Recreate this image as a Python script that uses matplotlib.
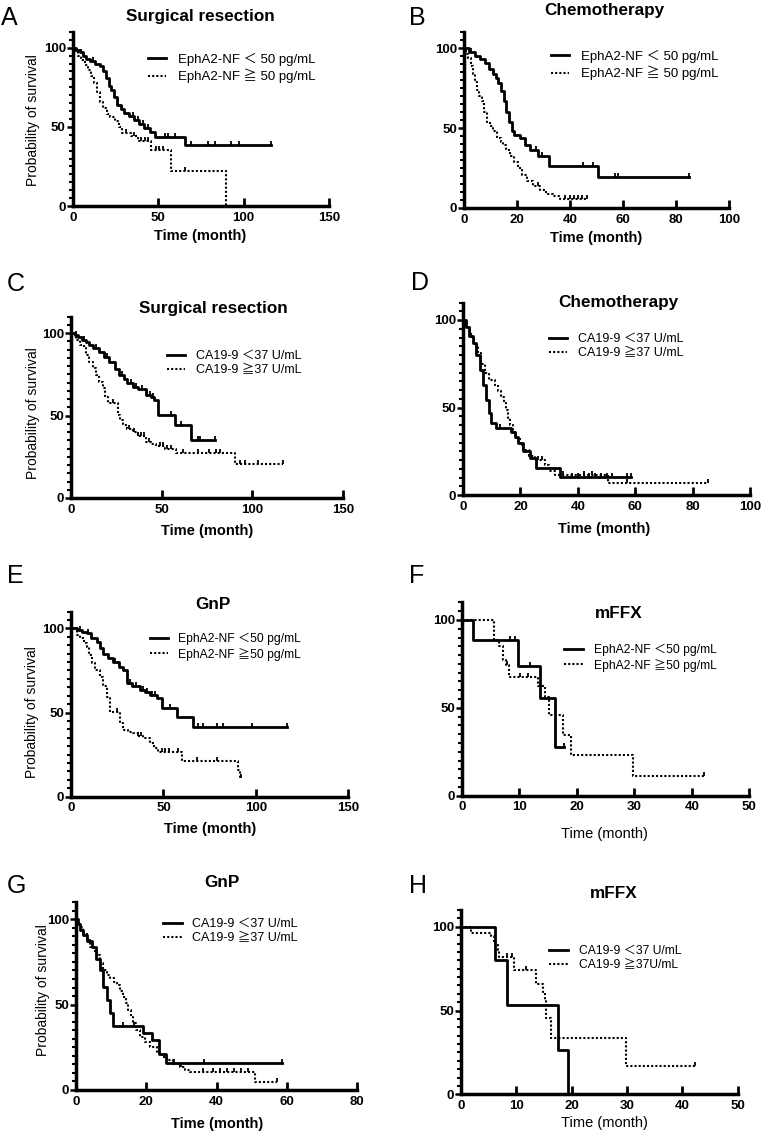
import numpy as np
import matplotlib
matplotlib.use("Agg")
import matplotlib.pyplot as plt
from matplotlib.ticker import MultipleLocator

plt.rcParams['font.family'] = ['Liberation Sans', 'Noto Sans CJK JP', 'DejaVu Sans']

# ---- data: step times (month), survival (%) after each step, censor times ----
# A  Surgical resection, EphA2-NF
a_lo_t = [0, 2, 4, 6, 8, 10, 13, 16, 18, 19.5, 21, 22.5, 24, 26, 28, 30, 33, 36, 39, 42, 45, 48, 66]
a_lo_s = [100, 98.5, 97, 95, 93, 91.5, 90, 88.5, 85, 81, 76, 73, 69, 64, 61, 59, 57, 54.5, 52, 49.5, 47, 43.6, 38.7]
a_lo_c = [5, 12, 29, 35, 38, 41, 44, 53.8, 55.7, 59.6, 69.3, 79, 83, 92.7, 97.6, 116]
a_hi_t = [0, 1.5, 3, 5, 7, 9, 11, 12.5, 14, 16, 18, 20, 22, 25, 27, 29, 34, 38.5, 46, 57.5, 90]
a_hi_s = [100, 97, 95, 92, 89, 86, 82, 78, 72, 66, 62, 58, 56, 54, 50, 46, 44.5, 41, 35.5, 22.4, 0]
a_hi_c = [31, 36, 40, 42.5, 44, 48.5, 50.5, 53, 66]

# B  Chemotherapy, EphA2-NF
b_lo_t = [0, 2, 4, 6, 8, 9.5, 11, 12, 13, 14, 15, 16, 17, 18, 19, 21, 23, 25, 28, 32, 50.7]
b_lo_s = [100, 97.5, 95, 93, 90.6, 87, 84, 81, 78, 73, 67, 60, 54, 48, 45.5, 43.5, 39.6, 36.5, 32.3, 26, 19.2]
b_lo_c = [2.5, 27, 29.5, 44.8, 48.8, 57, 58.2, 85]
b_hi_t = [0, 0.8, 1.6, 2.5, 3.3, 4.2, 5, 5.8, 6.7, 7.6, 8.6, 9.8, 11, 12.5, 13.8, 14.8, 16, 17.4,
          18.8, 20.5, 22, 23.7, 26, 28.7, 31, 33.7, 36.2]
b_hi_s = [100, 96.5, 93.7, 89, 84, 79, 74, 70, 66.7, 60, 54, 51, 48, 44, 41.5, 39.6, 36, 32.3,
          28.5, 25, 20.5, 16.7, 13.5, 11.5, 9, 7.3, 5.6]
b_hi_c = [28, 38, 40, 41.5, 43, 44.5, 46.3]

# C  Surgical resection, CA19-9
c_lo_t = [0, 2, 4, 6, 8.3, 10, 12, 15.6, 18, 21, 24, 26.6, 29, 31, 34, 37, 41.4, 44, 46, 47.8, 57.5, 66.2]
c_lo_s = [100, 98.5, 97.5, 96, 94.7, 93, 91, 88.7, 85.5, 82.6, 78, 74.5, 72, 70, 67.5, 66, 62.4, 61, 59.4, 50.3, 44.4, 35.2]
c_lo_c = [3, 7, 14, 20, 28, 33, 36, 39, 42, 43.5, 45, 55.2, 60.7, 69.9, 71.3, 79.4]
c_hi_t = [0, 2.8, 5, 7.3, 8.5, 10, 12, 13.8, 15.5, 17.5, 19, 20.2, 25.8, 27, 28.5, 31, 34, 37,
          41.4, 44, 46.9, 52, 57.9, 90.6]
c_hi_s = [100, 95.8, 93, 90.7, 86.5, 82.6, 78.5, 74.5, 70.5, 66.5, 61.5, 57.4, 50.3, 47, 44.2, 42, 40.2, 37.5,
          34.1, 33, 31.7, 30, 27.5, 20.4]
c_hi_c = [23, 32, 35, 37, 38.5, 40, 43, 49, 50.5, 53, 55, 62, 70, 76, 80, 82, 93, 96, 103, 116.8]

# D  Chemotherapy, CA19-9
d_lo_t = [0, 1, 2, 3.5, 4.5, 5.8, 6.8, 8.1, 9, 9.9, 11.6, 16.8, 18, 19.2, 21, 23.2, 25.5, 33.7]
d_lo_s = [100, 96, 91, 86.7, 80, 71.4, 63, 54.3, 47, 41, 38.1, 36, 33, 29.5, 25, 21, 15.2, 10.5]
d_lo_c = [13, 38, 40, 42, 44, 46, 48, 50, 52, 57, 58.4]
d_hi_t = [0, 1, 2, 2.9, 4, 5.2, 6.4, 7.6, 9, 11, 12.2, 13.3, 14.2, 15.1, 15.7, 16.3, 17.5, 18.6,
          19.8, 20.9, 23, 25, 28.5, 30, 32, 50.5]
d_hi_s = [100, 96.5, 93.5, 90.5, 86, 81, 75, 69.5, 66, 62.9, 59.5, 56.2, 52.5, 48.6, 44, 40, 36, 32.4,
          28.8, 25.7, 22.5, 20, 17.1, 14, 11.4, 7]
d_hi_c = [26, 27.5, 35, 42, 45, 57, 85.3]

# E  GnP, EphA2-NF
e_lo_t = [0, 3, 6, 8.5, 11, 13.9, 15.5, 17.5, 20, 22.9, 26, 28.3, 30.1, 33, 37.3, 40, 42.7, 46.3, 49, 57.1, 66.2]
e_lo_s = [100, 99, 98, 97, 94.5, 92, 88.5, 85, 82.5, 80, 77, 75.2, 67.3, 65.5, 63.4, 62, 60.4, 58.4, 52.5, 47.5, 41.6]
e_lo_c = [5, 9, 24, 32, 35, 39, 41, 44, 45.5, 53.5, 68.9, 71.6, 78.8, 82.4, 97.7, 116.6]
e_hi_t = [0, 3, 5, 7, 8.5, 10, 11.2, 13, 15.7, 17.5, 19.3, 21.1, 26.5, 28.3, 31, 33.7, 36, 39.1,
          42.7, 45, 47.2, 59.9, 90.5, 91.4]
e_hi_s = [100, 96, 94, 91.5, 89, 84, 79.2, 75.5, 71.3, 65.5, 59.4, 50.5, 43.6, 39.6, 38.5, 37.6, 36, 34.7,
          31.7, 29, 26.7, 21.4, 15.8, 10.9]
e_hi_c = [24.7, 36.5, 38, 49, 51, 53, 58, 68, 79, 92]

# F  mFFX, EphA2-NF
f_lo_t = [0, 1.9, 9.7, 13.6, 16.2]
f_lo_s = [100, 88.6, 73.8, 55.8, 27.9]
f_lo_c = [8.4, 9.2, 11.8, 17.7]
f_hi_t = [0, 5.6, 6.4, 7.1, 7.6, 8.2, 13.3, 14.4, 15.2, 17.5, 19, 29.7]
f_hi_s = [100, 88.5, 85, 77.2, 74.4, 67.7, 62.5, 56.4, 45.9, 34.5, 23.1, 11.4]
f_hi_c = [7.8, 10.1, 11.4, 42.2]

# G  GnP, CA19-9
g_lo_t = [0, 0.5, 1, 2.1, 3.2, 4.5, 5.6, 6.8, 7.8, 8.7, 9.7, 10.6, 19.1, 21.5, 23.7, 25.5]
g_lo_s = [100, 97, 94, 90.8, 87.5, 84, 77, 70.3, 60.5, 52.7, 44.9, 37.7, 33.2, 29.3, 21.1, 16]
g_lo_c = [13.5, 16.5, 36.4, 58.5]
g_hi_t = [0, 0.5, 1.1, 2, 3, 4, 5, 5.9, 6.8, 7.8, 8.8, 9.7, 10.7, 11.6, 12.5, 13.5, 14.2, 14.9,
          15.6, 16.3, 17.2, 18.2, 19.5, 21, 22.9, 24.5, 25.8, 27.5, 29.6, 31, 32.4, 50.9]
g_hi_s = [100, 98, 95.7, 92, 88, 84, 81.5, 79.1, 74.5, 70.3, 67.5, 65.4, 63.5, 61.5, 58, 54.7, 51, 46.9,
          43, 39, 35, 31.3, 28, 25.4, 21.5, 19.5, 17.6, 15.5, 13.7, 12, 10.7, 4.9]
g_hi_c = [28, 30, 36, 39, 41, 43, 45, 47, 49, 57.1]

# H  mFFX, CA19-9
h_lo_t = [0, 6.2, 8.3, 17.5, 19.3]
h_lo_s = [100, 80.1, 53.3, 26.4, 0]
h_lo_c = []
h_hi_t = [0, 1.8, 5.4, 6, 6.6, 6.9, 9.6, 13.6, 14.8, 15.1, 15.4, 16.3, 29.8]
h_hi_s = [100, 96, 94.4, 90, 86, 82, 74.2, 66, 61, 56, 45.3, 33.4, 16.9]
h_hi_c = [8.4, 9.2, 11.7, 42.2]

eph_lab_a = ['EphA2-NF ＜ 50 pg/mL', 'EphA2-NF ≧ 50 pg/mL']
eph_lab_e = ['EphA2-NF ＜50 pg/mL', 'EphA2-NF ≧50 pg/mL']
ca_lab = ['CA19-9 ＜37 U/mL', 'CA19-9 ≧37 U/mL']
ca_lab_h = ['CA19-9 ＜37 U/mL', 'CA19-9 ≧37U/mL']

W, H = 762, 1133
fig = plt.figure(figsize=(W / 100, H / 100), dpi=100)


def fx(px):
    return px / W


def fy(py):
    return 1 - py / H


def km(ax, t, s, cens, **kw):
    t = np.asarray(t, float)
    s = np.asarray(s, float)
    end = max([t[-1]] + list(cens))
    line, = ax.step(np.append(t, end), np.append(s, s[-1]), where='post',
                    color='black', clip_on=False, **kw)
    if len(cens):
        c = np.asarray(cens, float)
        idx = np.searchsorted(t, c, side='right') - 1
        ax.plot(c, s[idx] + 1.2, linestyle='none', marker='|', ms=3.5, mew=1.3,
                color='black', clip_on=False)
    return line


# letter, title, box(x0, ytop, xr, ybottom px), xmax, xstep, title xy, xlabel xy, bold xlabel,
# legend (handle x, top y), labels, legend fontsize, handlelength, ylabel xy
panels = [
    dict(letter='A', lxy=(1, 25), title='Surgical resection', txy=(200, 21),
         box=(72.7, 31.9, 329, 206), xmax=150, xstep=50, xlxy=(200, 240), xlbold=True,
         leg=(148, 53), labels=eph_lab_a, lfs=9.5, hl=1.4, ylxy=(33, 120),
         lo=(a_lo_t, a_lo_s, a_lo_c), hi=(a_hi_t, a_hi_s, a_hi_c)),
    dict(letter='B', lxy=(409, 25), title='Chemotherapy', txy=(604, 15),
         box=(464, 32, 729, 208), xmax=100, xstep=20, xlxy=(596, 242), xlbold=True,
         leg=(551, 50), labels=eph_lab_a, lfs=9.5, hl=1.4, ylxy=None,
         lo=(b_lo_t, b_lo_s, b_lo_c), hi=(b_hi_t, b_hi_s, b_hi_c)),
    dict(letter='C', lxy=(7, 291), title='Surgical resection', txy=(213, 312.7),
         box=(71, 316.5, 343, 498), xmax=150, xstep=50, xlxy=(207, 535), xlbold=True,
         leg=(167, 350), labels=ca_lab, lfs=9, hl=1.45, ylxy=(33, 413),
         lo=(c_lo_t, c_lo_s, c_lo_c), hi=(c_hi_t, c_hi_s, c_hi_c)),
    dict(letter='D', lxy=(411, 290), title='Chemotherapy', txy=(618, 306.7),
         box=(463, 302.5, 750, 495), xmax=100, xstep=20, xlxy=(604, 533), xlbold=True,
         leg=(549, 333), labels=ca_lab, lfs=9, hl=1.45, ylxy=None,
         lo=(d_lo_t, d_lo_s, d_lo_c), hi=(d_hi_t, d_hi_s, d_hi_c)),
    dict(letter='E', lxy=(7, 583), title='GnP', txy=(213, 609),
         box=(71, 611.5, 348.3, 796.7), xmax=150, xstep=50, xlxy=(210, 833), xlbold=True,
         leg=(150, 633), labels=eph_lab_e, lfs=8.7, hl=1.5, ylxy=(32, 712),
         lo=(e_lo_t, e_lo_s, e_lo_c), hi=(e_hi_t, e_hi_s, e_hi_c)),
    dict(letter='F', lxy=(409, 583), title='mFFX', txy=(619, 618),
         box=(462, 602.4, 749.3, 795.7), xmax=50, xstep=10, xlxy=(604, 838), xlbold=False,
         leg=(564, 644), labels=eph_lab_e, lfs=8.7, hl=1.6, ylxy=None,
         lo=(f_lo_t, f_lo_s, f_lo_c), hi=(f_hi_t, f_hi_s, f_hi_c)),
    dict(letter='G', lxy=(7, 893), title='GnP', txy=(222, 886.7),
         box=(76, 902.2, 357.3, 1090), xmax=80, xstep=20, xlxy=(217, 1128), xlbold=True,
         leg=(163, 918), labels=ca_lab, lfs=9, hl=1.5, ylxy=(43, 990),
         lo=(g_lo_t, g_lo_s, g_lo_c), hi=(g_hi_t, g_hi_s, g_hi_c)),
    dict(letter='H', lxy=(409, 893), title='mFFX', txy=(614, 898),
         box=(461, 910, 737.7, 1094.3), xmax=50, xstep=10, xlxy=(604, 1127), xlbold=False,
         leg=(549, 945), labels=ca_lab_h, lfs=8.7, hl=1.6, ylxy=None,
         lo=(h_lo_t, h_lo_s, h_lo_c), hi=(h_hi_t, h_hi_s, h_hi_c)),
]

for p in panels:
    x0, yt, xr, yb = p['box']
    ax = fig.add_axes([fx(x0), fy(yb), (xr - x0) / W, (yb - yt) / H])
    l1 = km(ax, *p['lo'], lw=2.0)
    l2 = km(ax, *p['hi'], lw=1.5, linestyle=(0, (1, 1)))

    ax.set_xlim(0, p['xmax'])
    ax.set_ylim(0, 110)
    xt = np.arange(0, p['xmax'] + 1, p['xstep'])
    ax.set_xticks(xt, [str(v) for v in xt], fontweight='bold')
    ax.set_yticks([0, 50, 100], ['0', '50', '100'], fontweight='bold')
    ax.yaxis.set_minor_locator(MultipleLocator(5))
    for side in ['top', 'right']:
        ax.spines[side].set_visible(False)
    for side in ['left', 'bottom']:
        ax.spines[side].set_linewidth(2.5)
    ax.tick_params(axis='x', direction='in', length=5.5, width=2.0, labelsize=9.5, pad=4)
    ax.tick_params(axis='y', which='major', direction='out', length=4, width=1.8,
                   labelsize=9.5, pad=1)
    ax.tick_params(axis='y', which='minor', direction='out', length=3, width=1.5)
    ax.patch.set_visible(False)

    ax.legend([l1, l2], p['labels'], loc='upper left',
              bbox_to_anchor=(fx(p['leg'][0]), fy(p['leg'][1])),
              bbox_transform=fig.transFigure, frameon=False, borderpad=0,
              borderaxespad=0, handlelength=p['hl'], handletextpad=0.85,
              labelspacing=0.2, fontsize=p['lfs'])

    fig.text(fx(p['lxy'][0]), fy(p['lxy'][1]), p['letter'], fontsize=18,
             ha='left', va='baseline')
    fig.text(fx(p['txy'][0]), fy(p['txy'][1]), p['title'], fontsize=12.3,
             fontweight='bold', ha='center', va='baseline')
    fig.text(fx(p['xlxy'][0]), fy(p['xlxy'][1]), 'Time (month)', fontsize=10.5,
             fontweight='bold' if p['xlbold'] else 'normal', ha='center', va='baseline')
    if p['ylxy'] is not None:
        fig.text(fx(p['ylxy'][0]), fy(p['ylxy'][1]), 'Probability of survival',
                 fontsize=10, rotation=90, ha='center', va='center')

fig.savefig('out.png', dpi=100)
